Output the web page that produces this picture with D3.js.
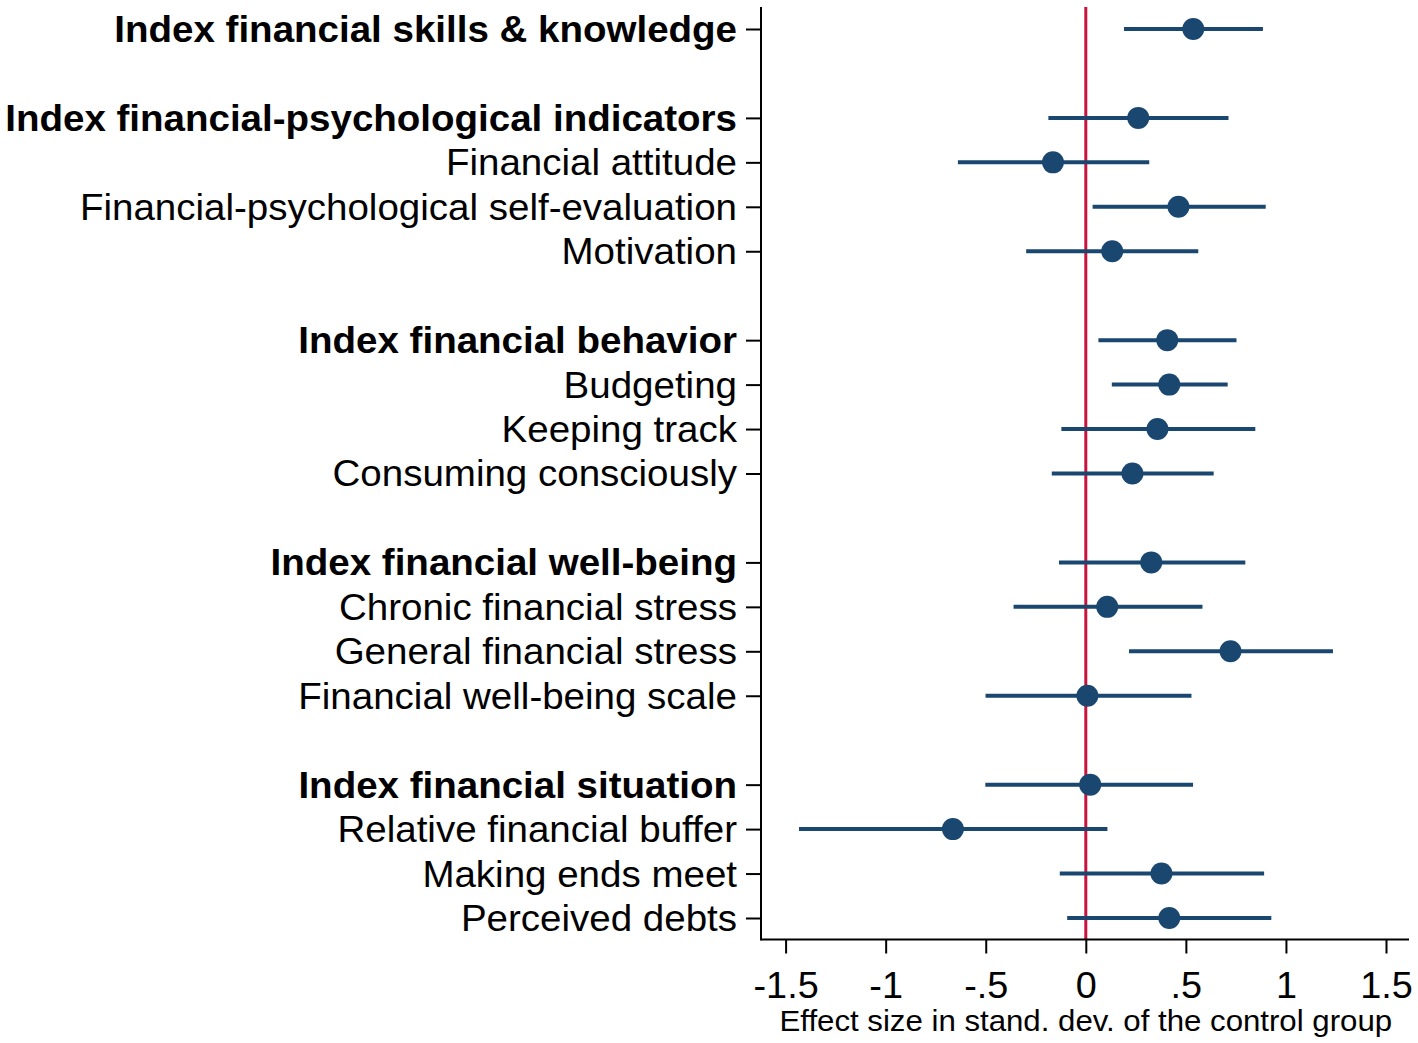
<!DOCTYPE html>
<html>
<head>
<meta charset="utf-8">
<script src="https://cdn.jsdelivr.net/npm/d3@7"></script>
<style>
  html, body { margin: 0; padding: 0; background: #ffffff; }
  svg { display: block; }
  text { font-family: "Liberation Sans", Arial, Helvetica, sans-serif; fill: #000; }
</style>
</head>
<body>
<svg id="chart" width="1418" height="1043"></svg>
<script>
// ---- data ----
const labels = [
  "Index financial skills & knowledge",
  "Index financial-psychological indicators",
  "Financial attitude",
  "Financial-psychological self-evaluation",
  "Motivation",
  "Index financial behavior",
  "Budgeting",
  "Keeping track",
  "Consuming consciously",
  "Index financial well-being",
  "Chronic financial stress",
  "General financial stress",
  "Financial well-being scale",
  "Index financial situation",
  "Relative financial buffer",
  "Making ends meet",
  "Perceived debts"
];
const groups = [0, 1, 1, 1, 1, 2, 2, 2, 2, 3, 3, 3, 3, 4, 4, 4, 4];
const isIndex = [true, true, false, false, false, true, false, false, false, true, false, false, false, true, false, false, false];
const estimates = [0.537, 0.262, -0.164, 0.463, 0.132, 0.407, 0.417, 0.358, 0.233, 0.327, 0.107, 0.723, 0.008, 0.022, -0.664, 0.378, 0.417];
const lower = [0.191, -0.187, -0.639, 0.034, -0.298, 0.063, 0.130, -0.122, -0.170, -0.134, -0.361, 0.216, -0.501, -0.502, -1.433, -0.130, -0.093];
const upper = [0.885, 0.713, 0.317, 0.899, 0.562, 0.753, 0.709, 0.847, 0.639, 0.797, 0.583, 1.235, 0.528, 0.536, 0.108, 0.891, 0.927];
const xTickValues = [-1.5, -1, -0.5, 0, 0.5, 1, 1.5];
const xTickLabels = ["-1.5", "-1", "-.5", "0", ".5", "1", "1.5"];
const xTitle = "Effect size in stand. dev. of the control group";

// ---- layout ----
const plotLeft = 761, plotRight = 1409, plotTop = 7, plotBottom = 939.5;
const navy = "#1a476f";
const red = "#c8143c";

const svg = d3.select("#chart");
svg.append("rect").attr("width", 1418).attr("height", 1043).attr("fill", "#fff");

const x = d3.scaleLinear().domain([-1.5, 1.5]).range([785.6, 1386]);
const nSlots = labels.length + groups[groups.length - 1];
const y = d3.scaleLinear().domain([0, nSlots - 1]).range([29, 918]);

const rows = labels.map((l, i) => ({
  label: l, slot: i + groups[i], bold: isIndex[i],
  est: estimates[i], lo: lower[i], hi: upper[i]
}));

// reference line at zero
svg.append("line")
  .attr("x1", x(0)).attr("x2", x(0))
  .attr("y1", plotTop).attr("y2", plotBottom)
  .attr("stroke", red).attr("stroke-width", 3);

// y axis (ticks only)
const yAxis = d3.axisLeft(y)
  .tickValues(rows.map(r => r.slot))
  .tickFormat("")
  .tickSize(15)
  .tickSizeOuter(0);
const gy = svg.append("g").attr("transform", `translate(${plotLeft},0)`).call(yAxis);
gy.select(".domain").remove();
gy.selectAll(".tick line").attr("stroke", "#000").attr("stroke-width", 2);

// x axis
const xAxis = d3.axisBottom(x)
  .tickValues(xTickValues)
  .tickFormat((d, i) => xTickLabels[i])
  .tickSize(14)
  .tickSizeOuter(0)
  .tickPadding(19);
const gx = svg.append("g").attr("transform", `translate(0,${plotBottom})`).call(xAxis);
gx.select(".domain").remove();
gx.selectAll(".tick line").attr("stroke", "#000").attr("stroke-width", 2);
gx.selectAll(".tick text")
  .attr("font-size", 36)
  .attr("font-family", '"Liberation Sans", Arial, sans-serif')
  .attr("fill", "#000")
  .attr("transform", "scale(1.05,1)");

// axis lines
svg.append("line")
  .attr("x1", plotLeft).attr("x2", plotLeft)
  .attr("y1", plotTop).attr("y2", plotBottom + 1)
  .attr("stroke", "#000").attr("stroke-width", 2);
svg.append("line")
  .attr("x1", plotLeft).attr("x2", plotRight)
  .attr("y1", plotBottom).attr("y2", plotBottom)
  .attr("stroke", "#000").attr("stroke-width", 2);

// x title
svg.append("g")
  .attr("transform", `translate(${x(0)},1031)`)
  .append("text")
  .attr("text-anchor", "middle")
  .attr("font-size", 30)
  .attr("transform", "scale(1.04,1)")
  .text(xTitle);

// row labels
const lab = svg.append("g").selectAll("g.lab").data(rows).join("g")
  .attr("class", "lab")
  .attr("transform", d => `translate(737,${y(d.slot)})`);
lab.append("text")
  .attr("text-anchor", "end")
  .attr("dy", "0.36em")
  .attr("font-size", 36)
  .attr("font-weight", d => d.bold ? "bold" : "normal")
  .attr("transform", "scale(1.07,1)")
  .text(d => d.label);

// confidence intervals
svg.append("g").selectAll("line.ci").data(rows).join("line")
  .attr("class", "ci")
  .attr("x1", d => x(d.lo)).attr("x2", d => x(d.hi))
  .attr("y1", d => y(d.slot)).attr("y2", d => y(d.slot))
  .attr("stroke", navy).attr("stroke-width", 4);

// point estimates
svg.append("g").selectAll("circle.pt").data(rows).join("circle")
  .attr("class", "pt")
  .attr("cx", d => x(d.est)).attr("cy", d => y(d.slot))
  .attr("r", 11)
  .attr("fill", navy);
</script>
</body>
</html>
